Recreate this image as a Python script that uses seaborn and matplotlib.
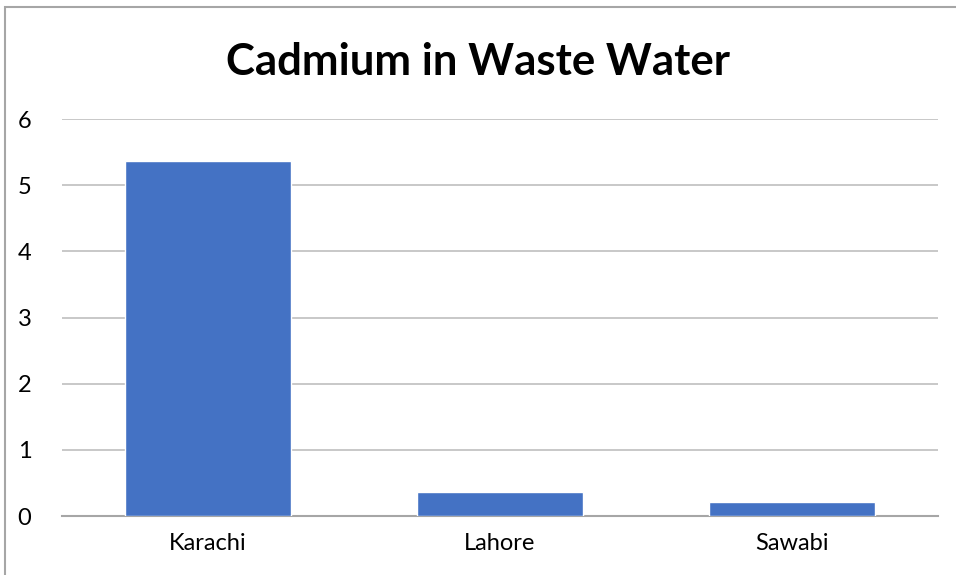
import matplotlib
matplotlib.use('Agg')
import matplotlib.pyplot as plt
import seaborn as sns
import pandas as pd
from matplotlib.patches import Rectangle

cities = ['Karachi', 'Lahore', 'Sawabi']
cadmium = [5.37, 0.36, 0.21]
yticks = [0, 1, 2, 3, 4, 5, 6]

df = pd.DataFrame({'city': cities, 'cadmium': cadmium})

sns.set_theme(style='white')
plt.rcParams['font.family'] = ['Lato', 'DejaVu Sans']

fig = plt.figure(figsize=(9.56, 5.75), dpi=100)
ax = fig.add_axes([0.0649, 0.1026, 0.9163, 0.6904])

sns.barplot(data=df, x='city', y='cadmium', color='#4472C4', saturation=1,
            width=0.57, ax=ax, zorder=3)

ax.set_ylim(0, 6)
ax.set_xlim(-0.5, 2.5)
ax.set_yticks(yticks)
ax.yaxis.grid(True, color='#bfbfbf', lw=1.2, zorder=0)
ax.set_axisbelow(True)
for s in ['top', 'right', 'left']:
    ax.spines[s].set_visible(False)
ax.spines['bottom'].set_color('#a6a6a6')
ax.spines['bottom'].set_linewidth(1.5)
ax.tick_params(axis='both', length=0, labelsize=17, colors='black')
ax.tick_params(axis='y', pad=22)
ax.tick_params(axis='x', pad=12)
ax.set_xlabel('')
ax.set_ylabel('')

fig.text(0.5, 0.893, 'Cadmium in Waste Water', ha='center', va='center',
         fontsize=31.5, fontweight='bold', color='black')

# outer chart border (cut off on right and bottom)
fig.add_artist(Rectangle((4.5 / 956, -0.1), 1.2, 1.1 - 7.5 / 575,
                         transform=fig.transFigure, fill=False,
                         edgecolor='#a6a6a6', lw=1.5))

fig.savefig('out.png', dpi=100)
